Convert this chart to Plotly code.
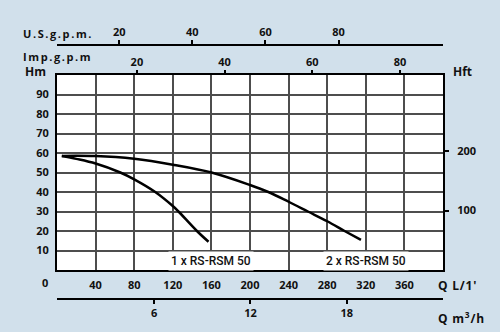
import plotly.graph_objects as go

# Pump head curves: flow Q (L/min) vs head H (m)
q_single = [5, 20, 40, 65.6, 80, 101.8, 120, 125.9, 145, 157]
h_single = [58.5, 57.0, 54.6, 50.0, 46.5, 40.0, 32.8, 30.0, 20.0, 14.5]

q_double = [5, 40, 80, 120, 160, 200, 219, 240, 260, 280, 298, 315]
h_double = [58.5, 58.4, 57.0, 54.0, 50.0, 43.6, 40.0, 35.0, 30.0, 25.0, 20.0, 15.4]

series_names = ["1 x RS-RSM 50", "2 x RS-RSM 50"]
label_pos_q = [160, 320]
label_pos_h = [4.6, 4.6]

# Tick values for every scale
q_lmin_ticks = [40, 80, 120, 160, 200, 240, 280, 320, 360]
h_m_ticks = [10, 20, 30, 40, 50, 60, 70, 80, 90]
h_ft_ticks = [100, 200]
imp_gpm_ticks = [20, 40, 60, 80]
us_gpm_ticks = [20, 40, 60, 80]
q_m3h_ticks = [6, 12, 18]

W, H = 500, 332
L, R, T, B = 57, 443, 45, 299          # paper box in pixels
PLOT_TOP, PLOT_BOTTOM = 75, 270        # chart frame in pixels

BG = "#d1e0eb"
GRID = "#4d4d4d"
FONT = "Open Sans"


def px(x):
    return (x - L) / (R - L)


def py(y):
    return (B - y) / (B - T)


tick_font = dict(family=FONT, size=11, color="#111111", weight=700)

fig = go.Figure()
fig.add_trace(go.Scatter(x=q_single, y=h_single, mode="lines",
                         line=dict(color="black", width=2.5, shape="spline"),
                         hoverinfo="skip"))
fig.add_trace(go.Scatter(x=q_double, y=h_double, mode="lines",
                         line=dict(color="black", width=2.5, shape="spline"),
                         hoverinfo="skip"))
# empty traces so that the secondary scales are created
fig.add_trace(go.Scatter(x=[], y=[], xaxis="x2", yaxis="y", hoverinfo="skip"))
fig.add_trace(go.Scatter(x=[], y=[], xaxis="x3", yaxis="y", hoverinfo="skip"))
fig.add_trace(go.Scatter(x=[], y=[], xaxis="x4", yaxis="y", hoverinfo="skip"))
fig.add_trace(go.Scatter(x=[], y=[], xaxis="x", yaxis="y2", hoverinfo="skip"))

frame = dict(showline=True, linecolor="black", linewidth=2, mirror=True,
             zeroline=False, showgrid=True, gridcolor=GRID, gridwidth=1.5)

fig.update_layout(
    width=W, height=H,
    margin=dict(l=L, r=W - R, t=T, b=H - B, pad=0),
    paper_bgcolor=BG, plot_bgcolor="white",
    showlegend=False,
    xaxis=dict(domain=[0, 1], range=[0, 400], tickvals=q_lmin_ticks,
               ticks="", tickfont=tick_font, ticklabelstandoff=4,
               anchor="y", **frame),
    yaxis=dict(domain=[py(PLOT_BOTTOM), py(PLOT_TOP)], range=[0, 100],
               tickvals=h_m_ticks, ticks="", tickfont=tick_font,
               ticklabelstandoff=4, anchor="x", **frame),
    yaxis2=dict(overlaying="y", side="right", anchor="x",
                range=[0, 100 * 3.28084], tickvals=h_ft_ticks,
                ticks="outside", ticklen=5, tickwidth=1.5, tickcolor="black",
                tickfont=tick_font, ticklabelstandoff=6,
                showgrid=False, showline=False, zeroline=False),
    xaxis2=dict(overlaying="x", side="top", anchor="y",
                range=[1.78, 89.8], tickvals=imp_gpm_ticks,
                ticks="outside", ticklen=4, tickwidth=1.5, tickcolor="black",
                tickfont=tick_font, showgrid=False, showline=False,
                zeroline=False),
    xaxis3=dict(overlaying="x", side="top", anchor="free", position=1,
                range=[2.95, 108.6], tickvals=us_gpm_ticks,
                ticks="outside", ticklen=4, tickwidth=1.5, tickcolor="black",
                tickfont=tick_font, showgrid=False, showline=True,
                linecolor="black", linewidth=2, zeroline=False),
    xaxis4=dict(overlaying="x", side="bottom", anchor="free", position=0,
                range=[-0.06, 24], tickvals=q_m3h_ticks,
                ticks="outside", ticklen=4, tickwidth=1.5, tickcolor="black",
                tickfont=tick_font, showgrid=False, showline=True,
                linecolor="black", linewidth=2, zeroline=False),
)

label_font = dict(family=FONT, size=11, color="#111111", weight=700)


def paper_text(text, x, y, xanchor="center", size=11):
    fig.add_annotation(text=text, x=px(x), y=py(y), xref="paper", yref="paper",
                       xanchor=xanchor, yanchor="middle", showarrow=False,
                       font=dict(label_font, size=size))


def spaced(text, gap):
    return f'<span style="letter-spacing:{gap}px">{text}</span>'


paper_text("0", 45, 282)
paper_text("Hm", 35.5, 71, size=12)
paper_text("Hft", 462.5, 71, size=12)
paper_text(spaced("U.S.g.p.m.", 1.6), 21, 33, "left")
paper_text(spaced("Imp.g.p.m", 1.6), 21, 56, "left")
paper_text(spaced("Q L/1'", 0.8), 436, 285, "left", size=12)
paper_text(spaced("Q m<sup>3</sup>/h", 0.8), 436, 318, "left", size=12)

for name, qx, hy in zip(series_names, label_pos_q, label_pos_h):
    fig.add_annotation(text=name, x=qx, y=hy, xref="x", yref="y",
                       showarrow=False, bgcolor="white", borderpad=2,
                       font=dict(family="Roboto", size=12, color="#111111",
                                 weight=500))

fig.write_html("out.html")
